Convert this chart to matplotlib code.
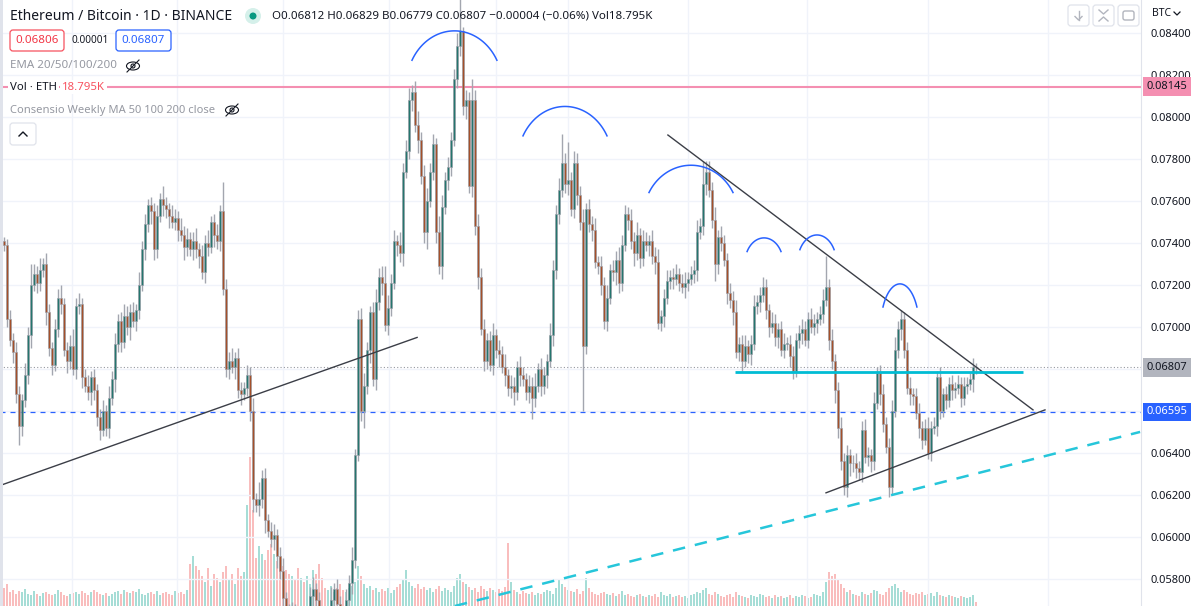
import numpy as np
import matplotlib.pyplot as plt
from matplotlib.patches import FancyBboxPatch, Ellipse, Circle

plt.rcParams['font.family'] = ['Noto Sans', 'DejaVu Sans']

W, H = 1200, 606

# --- daily candles ETH/BTC (prices in units of 0.0001 BTC) ---
first_open_e4 = 741
closes_e4 = [
    739, 704, 694, 688, 668, 653, 665, 677, 696, 720, 725, 721, 727, 730, 707, 690, 682, 699, 714, 711, 689, 684, 691, 680, 710,
    711, 676, 672, 669, 676, 670, 657, 651, 660, 652, 666, 675, 692, 703, 693, 705, 700, 707, 703, 708, 720, 737, 749, 758, 755,
    737, 753, 761, 758, 756, 753, 750, 752, 746, 744, 738, 742, 737, 741, 737, 734, 726, 740, 738, 750, 744, 741, 755, 718, 680,
    684, 681, 685, 670, 668, 671, 677, 660, 618, 615, 618, 628, 608, 603, 599, 601, 591, 584, 571, 563, 558, 565, 556, 551, 560,
    551, 558, 572, 575, 570, 560, 556, 551, 558, 570, 575, 568, 560, 558, 570, 578, 589, 639, 704, 660, 672, 689, 707, 675, 712,
    724, 721, 701, 709, 721, 741, 739, 735, 774, 784, 808, 812, 796, 789, 772, 745, 760, 774, 787, 745, 729, 757, 770, 776, 789,
    818, 834, 841, 805, 808, 767, 808, 748, 724, 699, 684, 694, 682, 696, 689, 687, 681, 677, 671, 672, 669, 681, 677, 675, 669,
    672, 666, 672, 680, 672, 677, 684, 696, 727, 754, 765, 778, 768, 770, 756, 778, 763, 750, 691, 756, 749, 746, 731, 729, 720,
    703, 714, 727, 726, 732, 721, 739, 754, 751, 741, 735, 744, 733, 741, 739, 741, 734, 731, 702, 705, 714, 722, 724, 723, 725,
    721, 719, 721, 723, 725, 727, 745, 748, 768, 774, 765, 751, 730, 743, 740, 732, 716, 713, 707, 688, 692, 684, 691, 687, 692,
    710, 712, 715, 719, 708, 700, 702, 695, 699, 689, 692, 692, 686, 679, 694, 697, 699, 694, 704, 700, 702, 704, 706, 713, 719,
    694, 684, 670, 652, 636, 624, 639, 635, 635, 633, 631, 651, 638, 639, 636, 664, 678, 668, 654, 643, 624, 660, 689, 699, 704,
    689, 671, 668, 667, 659, 652, 646, 652, 640, 652, 653, 676, 660, 668, 665, 673, 670, 671, 673, 666, 672, 673, 675, 681, 680.7,
]
wick_up_e4 = [
    2, 3, 4, 3, 5, 4, 3, 6, 4, 10, 5, 4, 6, 3, 5, 4, 3, 5, 4, 6, 3, 4, 5, 8, 4,
    5, 3, 4, 5, 3, 4, 3, 4, 5, 3, 6, 4, 5, 3, 4, 6, 5, 4, 5, 3, 6, 4, 5, 3, 4,
    4, 5, 3, 6, 4, 3, 5, 4, 3, 6, 4, 5, 3, 4, 6, 3, 5, 4, 6, 3, 4, 5, 3, 14, 5,
    4, 6, 3, 5, 4, 3, 5, 4, 6, 3, 8, 4, 5, 3, 4, 5, 3, 4, 6, 3, 5, 4, 3, 5, 4,
    3, 5, 4, 6, 3, 4, 5, 3, 4, 6, 3, 5, 4, 3, 5, 4, 6, 3, 4, 5, 6, 4, 3, 5, 6,
    4, 5, 8, 6, 4, 5, 3, 6, 4, 5, 6, 3, 5, 7, 4, 5, 6, 4, 5, 3, 8, 6, 4, 5, 4,
    5, 6, 15, 2, 5, 4, 10, 5, 6, 4, 5, 3, 4, 6, 3, 5, 4, 6, 3, 5, 4, 3, 5, 4, 3,
    5, 4, 6, 3, 5, 4, 3, 6, 5, 4, 6, 14, 5, 18, 4, 6, 5, 4, 6, 3, 5, 4, 6, 3, 5,
    4, 6, 3, 5, 4, 6, 5, 4, 3, 5, 4, 6, 3, 5, 4, 3, 5, 4, 6, 3, 4, 5, 3, 4, 5,
    3, 4, 5, 3, 4, 5, 6, 4, 11, 5, 5, 4, 6, 3, 5, 4, 3, 5, 4, 6, 3, 4, 5, 3, 4,
    5, 3, 4, 5, 4, 3, 5, 4, 3, 4, 5, 3, 4, 5, 3, 4, 5, 4, 3, 5, 4, 3, 4, 5, 15,
    4, 5, 3, 4, 5, 4, 5, 3, 4, 5, 3, 4, 5, 4, 3, 5, 3, 4, 5, 3, 4, 5, 6, 4, 4,
    3, 4, 5, 3, 4, 5, 3, 4, 5, 3, 4, 3, 5, 3, 4, 3, 4, 3, 4, 3, 4, 3, 3, 4, 2,
]
wick_down_e4 = [
    3, 4, 3, 5, 4, 9, 5, 3, 4, 6, 3, 5, 4, 3, 6, 4, 5, 3, 4, 5, 3, 6, 4, 3, 5,
    4, 5, 3, 4, 6, 5, 4, 5, 3, 4, 5, 3, 6, 4, 5, 3, 4, 6, 3, 5, 4, 3, 5, 4, 6,
    5, 4, 3, 5, 4, 6, 3, 4, 5, 3, 6, 4, 3, 5, 4, 6, 3, 5, 4, 3, 6, 4, 5, 3, 4,
    5, 3, 6, 4, 5, 3, 4, 5, 6, 3, 5, 4, 6, 3, 4, 5, 6, 4, 5, 3, 6, 4, 5, 3, 4,
    5, 4, 3, 5, 4, 6, 5, 4, 3, 5, 4, 6, 3, 5, 4, 6, 5, 4, 3, 5, 8, 4, 6, 3, 5,
    4, 6, 3, 5, 4, 3, 5, 4, 6, 3, 4, 5, 3, 6, 4, 5, 8, 3, 4, 5, 4, 6, 3, 5, 4,
    3, 4, 5, 4, 6, 3, 5, 4, 6, 3, 5, 4, 3, 5, 4, 6, 3, 5, 4, 5, 6, 4, 5, 3, 4,
    5, 10, 4, 3, 5, 4, 6, 3, 5, 4, 5, 3, 4, 5, 3, 4, 5, 4, 31, 4, 4, 5, 3, 4, 5,
    4, 5, 3, 4, 6, 5, 4, 3, 5, 4, 6, 3, 5, 4, 3, 5, 4, 6, 3, 4, 5, 3, 4, 5, 3,
    4, 3, 5, 4, 3, 4, 5, 3, 4, 5, 3, 4, 8, 5, 4, 3, 5, 4, 6, 3, 4, 5, 3, 4, 5,
    3, 4, 5, 3, 4, 5, 3, 4, 5, 3, 4, 3, 5, 4, 3, 4, 5, 3, 4, 3, 4, 5, 3, 4, 3,
    5, 4, 6, 5, 4, 4, 5, 6, 4, 5, 4, 5, 3, 4, 5, 4, 3, 5, 4, 3, 5, 4, 3, 4, 5,
    4, 3, 5, 4, 3, 5, 4, 2, 3, 4, 3, 5, 4, 3, 4, 3, 5, 4, 3, 4, 3, 4, 3, 6, 3,
]
volume_k = [
    90, 110, 70, 80, 60, 75, 70, 85, 60, 55, 75, 60, 50, 65, 70, 60, 55, 60, 80, 70, 55, 50, 60, 65, 70,
    60, 75, 65, 55, 70, 80, 70, 60, 55, 65, 50, 60, 70, 75, 60, 80, 70, 65, 75, 70, 85, 60, 55, 65, 70,
    60, 75, 55, 65, 70, 60, 55, 75, 65, 70, 60, 80, 210, 250, 200, 180, 150, 120, 190, 100, 160, 140, 120, 170, 200,
    130, 160, 110, 190, 150, 170, 505, 745, 480, 240, 300, 260, 230, 280, 310, 260, 225, 240, 200, 180, 160, 150, 130, 190, 140,
    120, 150, 110, 180, 160, 210, 140, 90, 80, 100, 70, 90, 110, 80, 70, 90, 100, 120, 200, 150, 110, 90, 100, 80, 90,
    70, 85, 75, 90, 65, 80, 95, 110, 130, 180, 120, 100, 90, 110, 85, 95, 80, 90, 70, 85, 100, 75, 90, 80, 70,
    100, 140, 160, 120, 110, 95, 80, 90, 70, 100, 85, 75, 90, 80, 70, 85, 75, 95, 315, 120, 80, 70, 60, 75, 65,
    60, 70, 55, 65, 60, 70, 80, 75, 60, 90, 130, 110, 95, 80, 75, 70, 85, 60, 75, 140, 90, 70, 60, 55, 65,
    70, 60, 55, 65, 50, 60, 75, 55, 60, 50, 45, 55, 60, 50, 45, 55, 50, 60, 45, 70, 55, 50, 60, 45, 50,
    55, 45, 50, 40, 55, 60, 70, 65, 80, 90, 60, 55, 70, 60, 50, 45, 55, 60, 45, 70, 55, 50, 45, 40, 55,
    50, 45, 60, 55, 45, 50, 40, 55, 45, 50, 40, 45, 55, 40, 50, 45, 55, 50, 40, 45, 60, 55, 50, 70, 120,
    170, 150, 160, 130, 110, 90, 70, 80, 60, 55, 50, 70, 60, 55, 65, 80, 75, 60, 55, 70, 90, 100, 110, 90, 70,
    80, 70, 60, 55, 65, 60, 70, 55, 60, 65, 50, 70, 55, 50, 45, 55, 50, 45, 40, 50, 45, 40, 45, 55, 19,
]

grid_prices = [0.058, 0.060, 0.062, 0.064, 0.066, 0.068, 0.070, 0.072,
               0.074, 0.076, 0.078, 0.080, 0.082, 0.084]
# 0.066 and 0.068 are hidden behind the price boxes
label_prices = [0.058, 0.060, 0.062, 0.064, 0.070, 0.072,
                0.074, 0.076, 0.078, 0.080, 0.082, 0.084]
resistance_price = 0.08145
last_price = 0.06807
marked_price = 0.06595
neckline_price = 0.06786

# drawings: (bar index, price e4)
support_line = [(-0.3, 625), (137.7, 695)]
falling_line = [(221.3, 791.4), (343, 660.5)]
rising_line = [(274, 621), (347, 660.5)]
neckline_span = [243.7, 339.7]
dashed_trend = [(150.3, 567.1), (378.7, 650)]
# arcs over the tops: left, right, top, drop
arc_left = [136, 173, 215, 247.7, 265.3, 293]
arc_right = [164.3, 201, 243, 259, 276.7, 304.3]
arc_top = [841, 805, 777, 742.4, 743.8, 720.5]
arc_drop = [14, 14, 13, 6.5, 7, 11]
grid_x_px = [72, 177, 283, 389, 496, 568, 688, 807, 928, 1048]

closes = np.array(closes_e4) / 1e4
opens = np.r_[first_open_e4 / 1e4, closes[:-1]]
highs = np.maximum(opens, closes) + np.array(wick_up_e4) / 1e4
lows = np.minimum(opens, closes) - np.array(wick_down_e4) / 1e4
idx = np.arange(len(closes))
up = closes >= opens

fig = plt.figure(figsize=(W / 100, H / 100), dpi=100, facecolor='white')
chart_w = 1141 / W
axv = fig.add_axes([0, 0, chart_w, 1])
ax = fig.add_axes([0, 0, chart_w, 1], sharex=axv)
ax.set_zorder(2)
ax.patch.set_visible(False)

x0 = -4 / 3
x1 = (1141 - 4) / 3
ymin, ymax = 0.05671, 0.08557
ax.set_xlim(x0, x1)
ax.set_ylim(ymin, ymax)

# volume
axv.set_ylim(0, 3030)
axv.bar(idx, volume_k, width=0.7, color=np.where(up, '#a6ddd6', '#f9bdbd'), linewidth=0)
axv.axis('off')

# grid
for p in grid_prices:
    ax.axhline(p, color='#f0f3fa', lw=1, zorder=0)
for gx in grid_x_px:
    ax.axvline((gx - 4) / 3, color='#f0f3fa', lw=1, zorder=0)

# price lines
ax.axhline(resistance_price, color='#f48fb1', lw=1.5, zorder=1)
ax.axhline(marked_price, color='#2962ff', lw=0.9, ls=(0, (4, 4)), zorder=1)
ax.axhline(last_price, color='#9598a1', lw=0.8, ls=(0, (1, 2)), zorder=1)

# candles
ax.vlines(idx, lows, highs, color='#a3a6af', lw=1, zorder=3)
body_lo = np.minimum(opens, closes)
body_h = np.maximum(np.abs(closes - opens), 0.00002)
ax.bar(idx, body_h, bottom=body_lo, width=0.72,
       color=np.where(up, '#25766e', '#a4502a'), edgecolor='#9a9da6', linewidth=0.4, zorder=4)

# drawings
def seg(points, **kw):
    xs = [p[0] for p in points]
    ys = [p[1] / 1e4 for p in points]
    ax.plot(xs, ys, zorder=5, **kw)

seg(support_line, color='#3b3e47', lw=1)
seg(falling_line, color='#3b3e47', lw=1)
seg(rising_line, color='#3b3e47', lw=1)
ax.plot(neckline_span, [neckline_price] * 2, color='#00bcd4', lw=2, zorder=5, solid_capstyle='butt')
seg(dashed_trend, color='#26c6da', lw=1.8, dashes=(5, 4))

theta = np.radians(62)
for l, r, t, d in zip(arc_left, arc_right, arc_top, arc_drop):
    a = np.linspace(-theta, theta, 80)
    xc = (l + r) / 2
    A = (r - l) / 2 / np.sin(theta)
    B = d / (1 - np.cos(theta))
    ax.plot(xc + A * np.sin(a), (t - B * (1 - np.cos(a))) / 1e4, color='#2962ff', lw=1.1, zorder=6)

# price scale
ax.yaxis.tick_right()
ax.set_yticks(label_prices)
ax.set_yticklabels([f'{p:.5f}' for p in label_prices])
ax.tick_params(axis='y', length=0, pad=7, labelsize=8, labelcolor='#131722')
ax.tick_params(axis='x', bottom=False, labelbottom=False)
for s in ['top', 'left', 'bottom']:
    ax.spines[s].set_visible(False)
ax.spines['right'].set_color('#e0e3eb')

for price, fc, tc in [(resistance_price, '#f48fb1', '#131722'),
                      (last_price, '#b2b5be', '#131722'),
                      (marked_price, '#2962ff', 'white')]:
    ax.annotate(f'{price:.5f}', xy=(1, price), xycoords=('axes fraction', 'data'),
                xytext=(4, 0), textcoords='offset points', ha='left', va='center',
                fontsize=8, color=tc, annotation_clip=False, zorder=10,
                bbox=dict(boxstyle='square,pad=0.35', fc=fc, ec='none'))

# overlay in pixel coordinates for the legend / header
ov = fig.add_axes([0, 0, 1, 1], zorder=20)
ov.set_xlim(0, W)
ov.set_ylim(H, 0)
ov.axis('off')
ov.patch.set_visible(False)

ov.add_patch(plt.Rectangle((0, 0), 3, H, color='#e0e3eb', lw=0))
ov.text(10, 16, 'Ethereum / Bitcoin · 1D · BINANCE', fontsize=10, color='#131722', va='center')
ov.add_patch(Circle((253, 16), 8, color='#d5f0ea', lw=0))
ov.add_patch(Circle((253, 16), 3.5, color='#089981', lw=0))
ov.text(272, 16, 'O0.06812 H0.06829 B0.06779 C0.06807 −0.00004 (−0.06%) Vol18.795K',
        fontsize=8.3, color='#131722', va='center')

ov.add_patch(FancyBboxPatch((10, 30), 54, 21, boxstyle='round,pad=0,rounding_size=3',
                            fc='white', ec='#f7525f', lw=0.9))
ov.text(37, 40.5, '0.06806', fontsize=8.3, color='#f23645', ha='center', va='center')
ov.text(72, 40.5, '0.00001', fontsize=7.2, color='#131722', va='center')
ov.add_patch(FancyBboxPatch((116, 30), 55, 21, boxstyle='round,pad=0,rounding_size=3',
                            fc='white', ec='#2962ff', lw=0.9))
ov.text(143.5, 40.5, '0.06807', fontsize=8.3, color='#2962ff', ha='center', va='center')


def eye_off(cx, cy):
    ov.add_patch(Ellipse((cx, cy), 13, 8, fc='none', ec='#131722', lw=0.8))
    ov.add_patch(Circle((cx, cy), 2, fc='none', ec='#131722', lw=0.8))
    ov.plot([cx - 6, cx + 6], [cy + 6, cy - 6], color='#131722', lw=0.8)


ov.text(10, 66, 'EMA 20/50/100/200', fontsize=8.3, color='#9598a1', va='center')
eye_off(133, 66)
ov.text(10, 87, 'Vol · ETH', fontsize=8.2, color='#131722', va='center',
        bbox=dict(boxstyle='square,pad=0.15', fc='white', ec='none'))
ov.text(62, 87, '18.795K', fontsize=8.2, color='#f7525f', va='center',
        bbox=dict(boxstyle='square,pad=0.15', fc='white', ec='none'))
ov.text(10, 110, 'Consensio Weekly MA 50 100 200 close', fontsize=8.05, color='#9598a1', va='center')
eye_off(232, 110)
ov.add_patch(FancyBboxPatch((10, 123), 26, 22, boxstyle='round,pad=0,rounding_size=3',
                            fc='white', ec='#e0e3eb', lw=0.9))
ov.plot([19, 23, 27], [136, 132, 136], color='#131722', lw=1)

# top right buttons
for bx in [1068, 1093, 1118]:
    ov.add_patch(FancyBboxPatch((bx, 5), 21, 21, boxstyle='round,pad=0,rounding_size=3',
                                fc='white', ec='#e0e3eb', lw=0.9))
ov.plot([1078.5, 1078.5], [11, 20], color='#b2b5be', lw=1)
ov.plot([1075, 1078.5, 1082], [16.5, 20, 16.5], color='#b2b5be', lw=1)
ov.plot([1099, 1103.5, 1108], [10, 14, 10], color='#b2b5be', lw=1)
ov.plot([1099, 1103.5, 1108], [21, 17, 21], color='#b2b5be', lw=1)
ov.add_patch(FancyBboxPatch((1123, 11), 11, 9, boxstyle='round,pad=0,rounding_size=2',
                            fc='none', ec='#b2b5be', lw=1))
ov.text(1152, 13, 'BTC', fontsize=7.5, color='#131722', va='center')
ov.plot([1174, 1177, 1180], [12, 15, 12], color='#131722', lw=0.9)

fig.savefig('out.png', dpi=100, facecolor='white')
